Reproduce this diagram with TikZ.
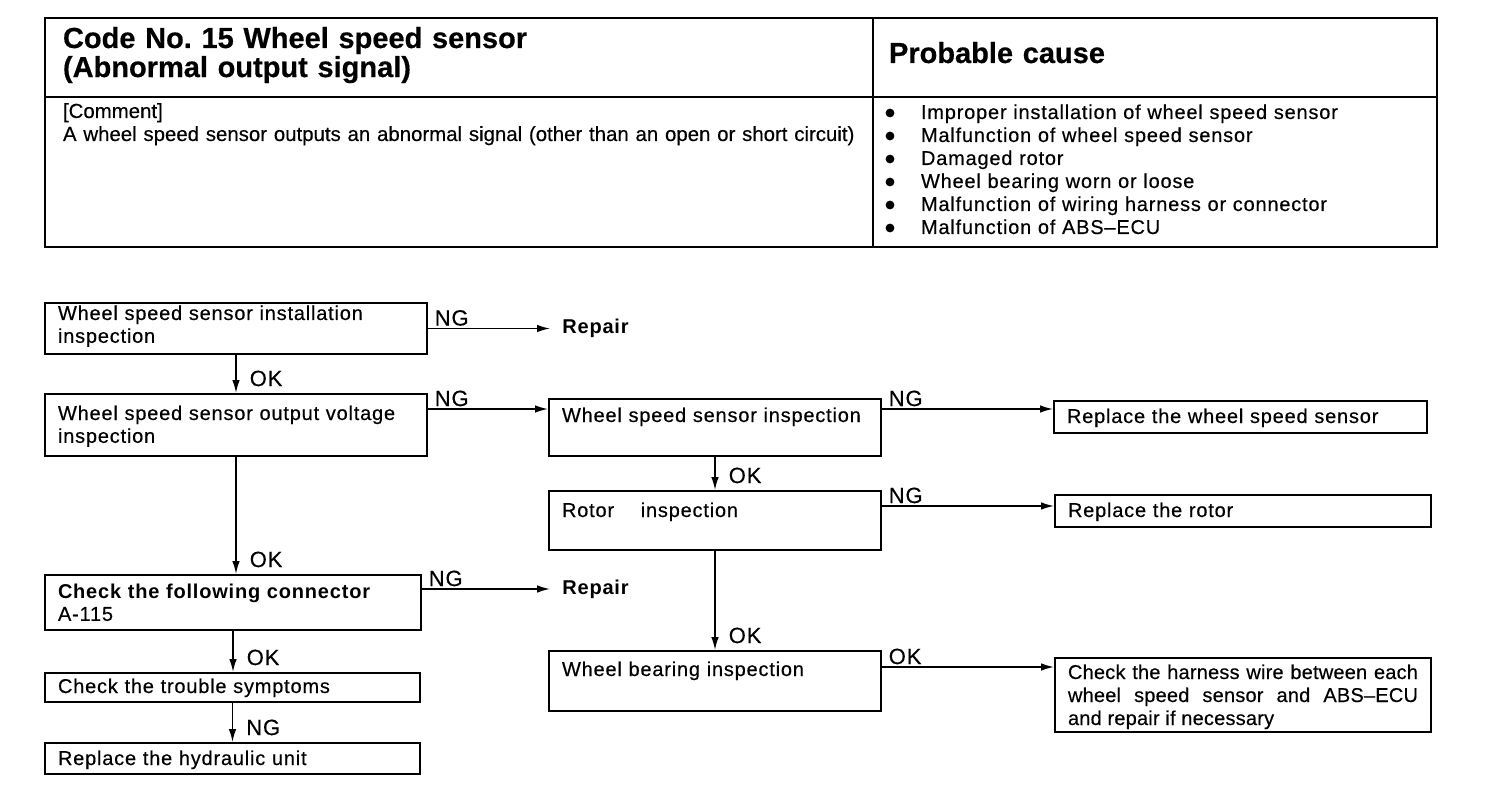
\documentclass[tikz,border=0pt]{standalone}
\usepackage{fontspec}
\setmainfont{Liberation Sans}[LetterSpace=4,UprightFeatures={FakeBold=0.4}]
\newfontfamily\headfont{Liberation Sans}[FakeBold=0.5]
\newfontfamily\plainfont{Liberation Sans}[FakeBold=0.3]
\newfontfamily\harnfont{Liberation Sans}[LetterSpace=1,FakeBold=0.4]
\usetikzlibrary{arrows.meta,positioning}
\frenchspacing

\begin{document}
\begin{tikzpicture}[x=0.5pt,y=-0.5pt,
  font=\fontsize{10pt}{11.4pt}\selectfont,
  cell/.style={draw,line width=1pt,anchor=north west,align=left,inner ysep=0pt},
  box/.style={draw,line width=1pt,anchor=north west,align=left,
              inner xsep=6.5pt,inner ysep=0pt,text width=#1-13pt},
  tb/.style 2 args={text height=#1,text depth=#2},
  rep/.style={font=\fontsize{10pt}{11pt}\selectfont\bfseries,inner xsep=6pt,inner ysep=0pt},
  lbl/.style={font=\fontsize{11pt}{12pt}\selectfont,inner xsep=3pt,inner ysep=1pt,anchor=south west},
  hl/.style={lbl,pos=0},
  vl/.style={lbl,pos=1,xshift=3.5pt,yshift=2pt},
  ar/.style={-{Latex[length=6.5pt,width=3.8pt]},line width=0.75pt}]
\useasboundingbox (0,0) rectangle (1504,786);
% header table
\node[cell,inner xsep=9pt,text width=396pt,tb={15pt}{24.5pt},
      font=\headfont\bfseries\fontsize{14.5pt}{13pt}\selectfont] (code) at (44,17)
  {Code No. 15 Wheel speed sensor\\(Abnormal output signal)};
\node[cell,inner xsep=8pt,text width=266pt,tb={22.5pt}{17pt},
      font=\headfont\bfseries\fontsize{14.5pt}{13pt}\selectfont] (cause) at (872,17)
  {Probable cause};
\node[cell,inner xsep=9pt,text width=396pt,tb={10.5pt}{64.5pt},
      font=\plainfont\fontsize{10.2pt}{11.5pt}\selectfont] (comm) at (44,96)
  {[Comment]\\A wheel speed sensor outputs an abnormal signal (other than an open or short circuit)};
\node[cell,inner xsep=24pt,text width=234pt,tb={11pt}{64pt},
      font=\fontsize{10pt}{11.5pt}\selectfont] (list) at (872,96)
  {Improper installation of wheel speed sensor\\
   Malfunction of wheel speed sensor\\
   Damaged rotor\\
   Wheel bearing worn or loose\\
   Malfunction of wiring harness or connector\\
   Malfunction of ABS–ECU};
\foreach \k in {0,...,5}
  \fill ([xshift=9pt,yshift={3pt-\k*11.5pt}]list.base west) circle[radius=2.2pt];
% flow chart
\node[box=191pt,tb={8.5pt}{17pt}] (inst) at (44,302) {Wheel speed sensor installation\\inspection};
\node[rep,right=61pt of inst.east] (rep1) {Repair};
\node[box=191pt,tb={13pt}{18pt}] (volt) at (44,393) {Wheel speed sensor output voltage\\inspection};
\node[box=166pt,tb={11.5pt}{17pt}] (sens) at (548,398) {Wheel speed sensor inspection};
\node[box=186.5pt,tb={11pt}{5pt}] (rsen) at (1053,400) {Replace the wheel speed sensor};
\node[box=166pt,tb={13pt}{16.5pt}] (rotor) at (548,490) {Rotor\hspace{10pt} inspection};
\node[box=188pt,tb={11pt}{5pt}] (rrot) at (1054,494) {Replace the rotor};
\node[box=166pt,tb={12.5pt}{17.5pt}] (bear) at (548,650) {Wheel bearing inspection};
\node[box=188pt,tb={10.5pt}{26.5pt},align=justify,
      font=\harnfont\fontsize{10pt}{11.5pt}\selectfont] (harn) at (1054,657)
  {Check the harness wire between each\linebreak wheel speed sensor and ABS–ECU\linebreak and repair if necessary};
\node[box=188pt,tb={11.5pt}{16pt}] (conn) at (44,574) {\textbf{Check the following connector}\\A-115};
\node[rep,right=64pt of conn.east,yshift=6.75pt] (rep2) {Repair};
\node[box=187.5pt,tb={10pt}{4.5pt}] (symp) at (44,672) {Check the trouble symptoms};
\node[box=187.5pt,tb={11pt}{4.5pt}] (hyd) at (44,742) {Replace the hydraulic unit};

\draw[ar] (rep1.west -| inst.east) -- (rep1.west) node[hl] {NG};
\draw[ar] (inst) -- (volt) node[vl] {OK};
\draw[ar] ([yshift=5.5pt]volt.base east) -- ([yshift=5.5pt]volt.base east -| sens.west) node[hl] {NG};
\draw[ar] ([yshift=6.5pt]sens.base east) -- ([yshift=6.5pt]sens.base east -| rsen.west) node[hl] {NG};
\draw[ar] (sens) -- (rotor) node[vl] {OK};
\draw[ar] ([yshift=5.5pt]rotor.base east) -- ([yshift=5.5pt]rotor.base east -| rrot.west) node[hl] {NG};
\draw[ar] (rotor) -- (bear) node[vl] {OK};
\draw[ar] ([yshift=4.5pt]bear.base east) -- ([yshift=4.5pt]bear.base east -| harn.west) node[hl] {OK};
\draw[ar] (volt.south) -- (volt.south |- conn.north) node[vl] {OK};
\draw[ar] (rep2.west -| conn.east) -- (rep2.west) node[hl] {NG};
\draw[ar] (conn.south) -- (conn.south |- symp.north) node[vl] {OK};
\draw[ar] (symp.south) -- (symp.south |- hyd.north) node[vl] {NG};
\end{tikzpicture}
\end{document}
